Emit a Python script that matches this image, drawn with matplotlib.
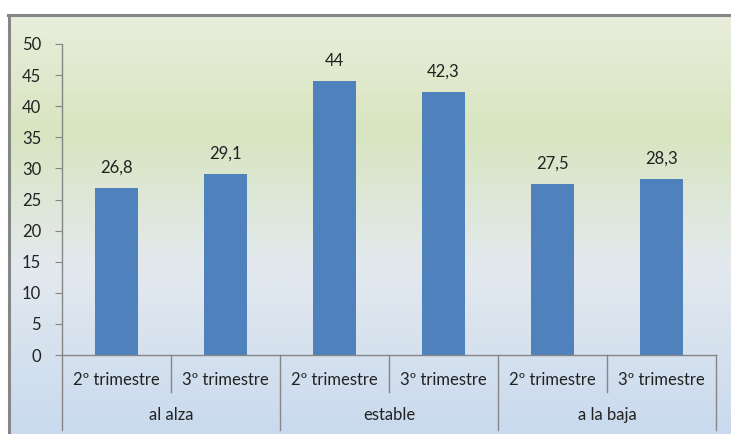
import numpy as np
import matplotlib.pyplot as plt
from matplotlib.colors import LinearSegmentedColormap

# --- DATA ---
GROUPS = ["al alza", "estable", "a la baja"]
PERIODS = ["2º trimestre", "3º trimestre"]
VALUES = [26.8, 29.1, 44, 42.3, 27.5, 28.3]
Y_TICKS = [0, 5, 10, 15, 20, 25, 30, 35, 40, 45, 50]

W, H = 731, 434
plt.rcParams['font.family'] = ['Lato', 'DejaVu Sans']
FS = 12
TXT = "#222222"
GRID = "#868686"

fig = plt.figure(figsize=(W / 100, H / 100), dpi=100)

# background gradient inside the chart frame (green top -> white -> blue bottom)
bg = fig.add_axes([8 / W, 0, 1 - 8 / W, 1 - 14 / H], zorder=0)
cmap = LinearSegmentedColormap.from_list(
    "bg", [(0.0, "#e9eedc"), (0.28, "#d8e5c0"), (0.6, "#e3e9ee"), (1.0, "#c9daee")])
grad = np.linspace(0, 1, 256).reshape(-1, 1)
bg.imshow(grad, aspect="auto", cmap=cmap, extent=[0, 1, 0, 1], origin="upper")
bg.set_axis_off()

# frame border (left + top visible)
fig.add_artist(plt.Line2D([8.5 / W, 8.5 / W], [0, 1 - 14.5 / H], color=GRID, lw=2.2))
fig.add_artist(plt.Line2D([7.5 / W, 1], [1 - 14.5 / H, 1 - 14.5 / H], color=GRID, lw=2.2))

# main plot area
x0, x1, y0, y1 = 62, 716, 355, 44
ax = fig.add_axes([x0 / W, (H - y0) / H, (x1 - x0) / W, (y0 - y1) / H], zorder=1)
ax.patch.set_alpha(0)

n = len(VALUES)
xs = np.arange(n)
ax.bar(xs, VALUES, width=0.4, color="#4f81bd", zorder=2)
for x, v in zip(xs, VALUES):
    txt = f"{v:g}".replace(".", ",")
    ax.annotate(txt, (x, v), xytext=(0, 9), textcoords="offset points",
                ha="center", va="bottom", fontsize=FS, color=TXT)

ax.set_xlim(-0.5, n - 0.5)
ax.set_ylim(0, 50)
ax.set_yticks(Y_TICKS)
ax.set_yticklabels([str(t) for t in Y_TICKS], fontsize=FS, color=TXT)
ax.tick_params(axis="y", length=5, color=GRID, pad=10)
ax.set_xticks([])

for s in ["top", "right"]:
    ax.spines[s].set_visible(False)
for s in ["left", "bottom"]:
    ax.spines[s].set_color(GRID)
    ax.spines[s].set_linewidth(1.0)

# two-level category axis
tr = ax.get_xaxis_transform()
ph = y0 - y1
for x in xs:
    ax.text(x, -(380 - y0) / ph, PERIODS[x % 2], transform=tr, ha="center", va="center",
            fontsize=FS, color=TXT)
for i in range(n + 1):
    depth = 430 if i % 2 == 0 else 392
    ax.plot([i - 0.5, i - 0.5], [0, -(depth - y0) / ph], transform=tr,
            color=GRID, lw=1.0, clip_on=False)
for g, name in enumerate(GROUPS):
    ax.text(2 * g + 0.5, -(415 - y0) / ph, name, transform=tr, ha="center", va="center",
            fontsize=FS, color=TXT)

fig.savefig("out.png", dpi=100)
